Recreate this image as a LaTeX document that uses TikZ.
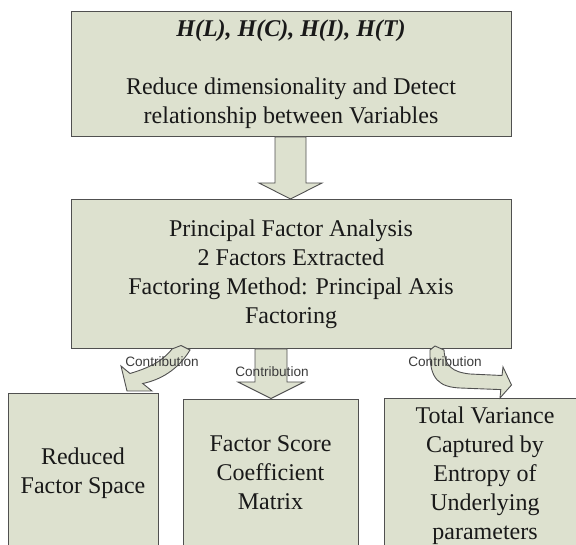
\documentclass[tikz,border=0pt]{standalone}
\usepackage{fontspec}
\setmainfont{Liberation Serif}
\newfontfamily\labelfont{Liberation Sans}
\definecolor{boxfill}{RGB}{221,225,207}
\definecolor{boxline}{RGB}{80,80,80}
\definecolor{lbl}{RGB}{60,60,60}
\tikzset{
  box/.style={draw=boxline, fill=boxfill, line width=1pt, rectangle, inner sep=0pt},
  txt/.style={align=center, font=\fontsize{24}{29}\selectfont, text=black!90, inner sep=0pt},
  blockarrow/.style={draw=boxline, fill=boxfill, line width=0.9pt, line join=miter},
  contrib/.style={font=\labelfont\fontsize{13.6}{15}\selectfont, text=lbl, inner sep=0pt}
}
\begin{document}
\begin{tikzpicture}[x=1pt,y=-1pt]
\useasboundingbox (0,0) rectangle (576,545);
\clip (0,0) rectangle (576,545);
% main boxes
\node[box, txt, minimum width=440pt, minimum height=125pt] (top) at (291,74.5)
  {{\bfseries\itshape H(L), H(C), H(I), H(T)}\\[29pt]Reduce dimensionality and Detect\\relationship between Variables};
\node[box, txt, minimum width=440pt, minimum height=149pt] (pfa) at (291,274.5)
  {Principal Factor Analysis\\2 Factors Extracted\\Factoring Method: Principal Axis\\Factoring};
% bottom boxes (run past the lower edge)
\node[box, minimum width=150pt, minimum height=175pt, anchor=north] (b1) at (83,393) {};
\node[box, minimum width=175pt, minimum height=175pt, anchor=north] (b2) at (270.5,399) {};
\node[box, minimum width=202pt, minimum height=175pt, anchor=north] (b3) at (485,398) {};
\node[txt] (t1) at (83,473) {Reduced\\Factor Space};
\node[txt] (t2) at (270.5,473) {Factor Score\\Coefficient\\Matrix};
\node[txt] (t3) at (485,475.5) {Total Variance\\Captured by\\Entropy of\\Underlying\\parameters};
% straight block arrows
\draw[blockarrow] (275,137) -- (275,183) -- (259,183) -- (290.5,199) -- (322,183) -- (306,183) -- (306,137) -- cycle;
\draw[blockarrow] (255,349) -- (255,382) -- (238,382) -- (271,398.5) -- (304,382) -- (287,382) -- (287,349) -- cycle;
% curved block arrows
\draw[blockarrow] (190,350) -- (181,345.5) -- (172,349)
  .. controls (162,362) and (148,368) .. (130,373.5)
  -- (121,366) -- (127,391) -- (152,391) -- (142.7,383.5)
  .. controls (160,380) and (178,370) .. (190,350) -- cycle;
\draw[blockarrow] (430,350) -- (435,346) -- (444,350)
  .. controls (445,366) and (452,372) .. (470,374) -- (502,375.5)
  -- (503,367) -- (511.5,385) -- (500,398) -- (500.8,389.6) -- (460,388)
  .. controls (440,387) and (429,380) .. (430,350) -- cycle;
% labels
\node[contrib] (c1) at (162,362) {Contribution};
\node[contrib] (c2) at (272,372) {Contribution};
\node[contrib] (c3) at (445,362) {Contribution};
\end{tikzpicture}
\end{document}
